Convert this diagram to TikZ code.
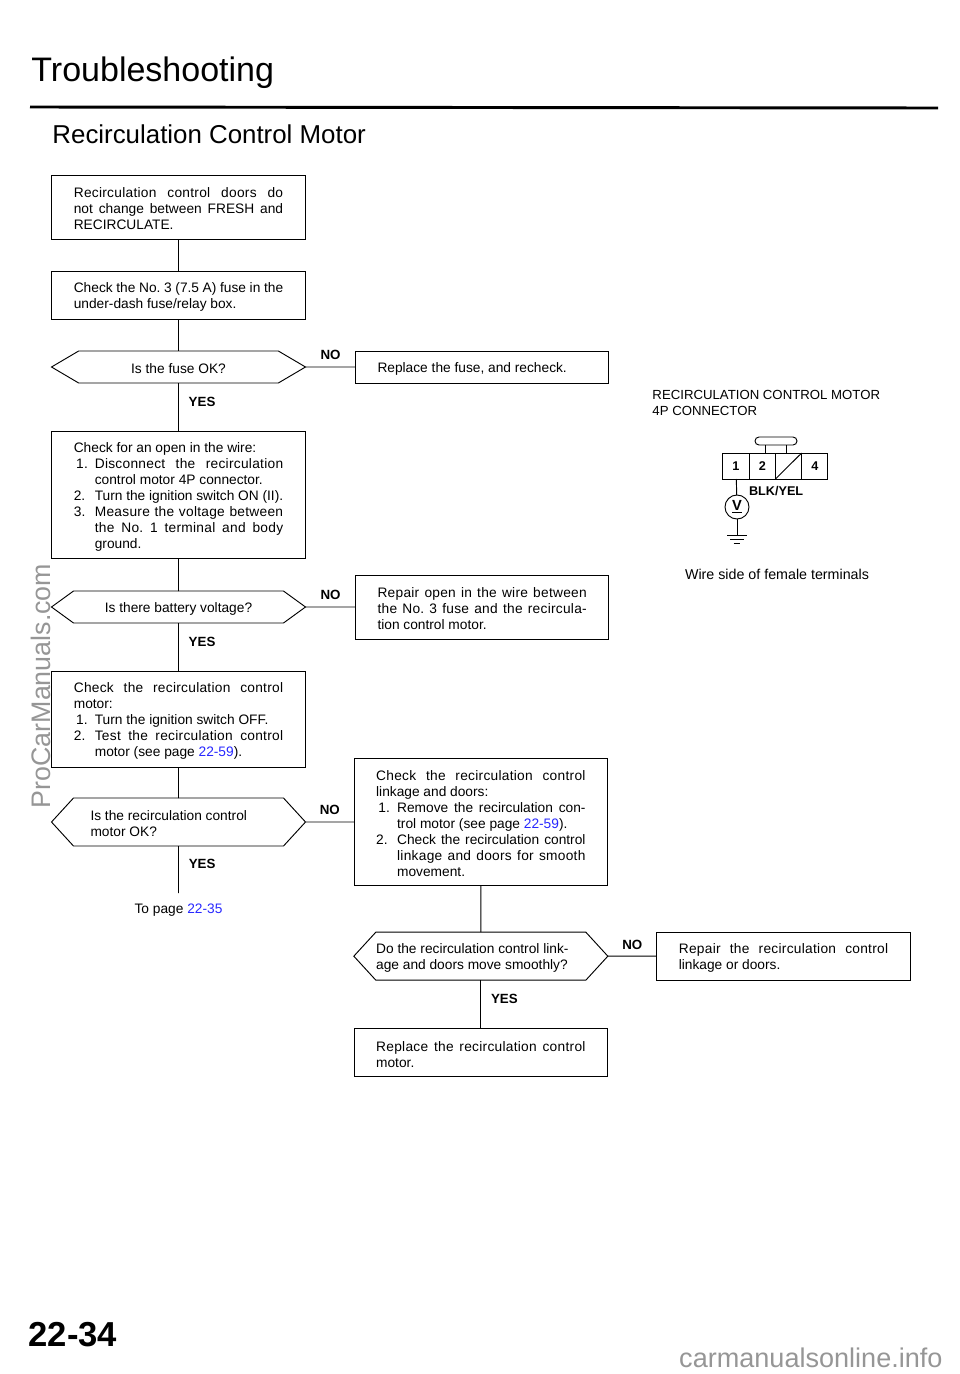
\documentclass[tikz,border=0pt]{standalone}
\usepackage{fontspec}
\setmainfont{Liberation Sans}
\usetikzlibrary{positioning}
\usetikzlibrary{shapes,shapes.symbols}
\definecolor{linkblue}{RGB}{40,40,255}
\definecolor{markgray}{RGB}{150,150,150}
\newlength{\boxw}
\setlength{\boxw}{157pt}
\newcommand{\jl}[1]{\makebox[\boxw][s]{#1}}
\newcommand{\js}[1]{\makebox[\boxw][s]{\addfontfeature{LetterSpace=2}#1}}
\newcommand{\il}[1]{\hspace*{15.75pt}#1}
\newcommand{\ijl}[1]{\hspace*{15.75pt}\makebox[\dimexpr\boxw-15.75pt][s]{\addfontfeature{LetterSpace=2}#1}}
\newcommand{\itm}[1]{\makebox[15.75pt][l]{#1}}
\newcommand{\lnk}[1]{\textcolor{linkblue}{#1}}
\tikzset{body/.style={font=\fontsize{10.3}{12}\selectfont\frenchspacing}}
\tikzset{plainsp/.style={execute at begin node={\spaceskip=0pt\xspaceskip=0pt\relax}}}
\tikzset{lowered/.style={execute at begin node={\spaceskip=0pt\xspaceskip=0pt\rule{0pt}{10.5pt}}}}
\tikzset{box/.style={draw,fill=white,body,lowered,align=left,text width=\boxw,inner xsep=16.5pt,inner ysep=0pt,outer sep=0pt,minimum height=#1}}
\tikzset{hex/.style n args={2}{draw,fill=white,body,lowered,align=left,signal,signal to=east and west,signal pointer angle=#1,minimum width=190.5pt,minimum height=#2,inner xsep=0pt,inner ysep=0pt,outer sep=0pt}}
\tikzset{yes/.style={font=\fontsize{10}{12}\selectfont\bfseries,right=4pt,pos=.39}}
\tikzset{no/.style={font=\fontsize{10}{12}\selectfont\bfseries,above=1.5pt}}
\tikzset{cell/.style={draw,minimum width=19.7pt,minimum height=19.5pt,inner sep=0pt,outer sep=0pt,font=\fontsize{9.5}{10}\selectfont\bfseries}}
\begin{document}
\begin{tikzpicture}[x=.75pt,y=-.75pt,line width=.7pt]
   \useasboundingbox (0,0) rectangle (960,1374);

   \node[rotate=90,text=markgray,font=\fontsize{20.1}{24}\selectfont] (watermark) at (41,686) {ProCarManuals.com};
   \node[text=markgray,font=\fontsize{20.3}{24}\selectfont,anchor=east,inner sep=0pt] (footer) at (943,1358) {carmanualsonline.info};
   \node[font=\fontsize{25.5}{30}\selectfont,anchor=west,inner sep=0pt] (title) at (31,73) {Troubleshooting};
   \node[font=\fontsize{19.4}{24}\selectfont,anchor=west,inner sep=0pt] (subtitle) at (52,134) {Recirculation Control Motor};
   \node[font=\fontsize{26}{30}\selectfont\bfseries,anchor=west,inner sep=0pt] (pageno) at (28,1335) {22-34};
   \coordinate (ruleL) at (30,107);
   \coordinate (ruleR) at (938,108);
   \draw[line width=2.2pt] (ruleL) -- (ruleR);

   \node[box=48pt] (B1) at (178.5,207) {\js{Recirculation control doors do}\\\jl{not change between FRESH and}\\RECIRCULATE.};
   \node[box=36pt] (B2) [below=24pt of B1] {\jl{Check the No. 3 (7.5 A) fuse in the}\\under-dash fuse/relay box.};
   \node[hex={61}{24pt}] (H1) [below=24pt of B2] {Is the fuse OK?};
   \node[box=24pt] (R1) [right=37.5pt of H1] {Replace the fuse, and recheck.};
   \node[box=95.25pt] (B3) [below=36pt of H1] {Check for an open in the wire:\\\js{\itm{\,1.}Disconnect the recirculation}\\\il{control motor 4P connector.}\\\itm{2.}Turn the ignition switch ON (II).\\\js{\itm{3.}Measure the voltage between}\\\ijl{the No. 1 terminal and body}\\\il{ground.}};
   \node[hex={72}{24pt}] (H2) [below=24.75pt of B3] {Is there battery voltage?};
   \node[box=48pt] (R2) [right=37.5pt of H2] {\js{Repair open in the wire between}\\\js{the No. 3 fuse and the recircula-}\\tion control motor.};
   \node[box=72pt] (B4) [below=36pt of H2] {\js{Check the recirculation control}\\motor:\\\itm{\,1.}Turn the ignition switch OFF.\\\js{\itm{2.}Test the recirculation control}\\\il{motor (see page \lnk{22-59}).}};
   \node[hex={95}{36pt},text width=132pt] (H3) [below=23.25pt of B4] {Is the recirculation control\\motor OK?};
   \coordinate[below=35.25pt of H3] (Hend);
   \node[body,plainsp] (topage) [below=4.5pt of Hend] {To page \lnk{22-35}};
   \node[box=95.25pt] (B5) [right=36.5pt of H3] {\js{Check the recirculation control}\\linkage and doors:\\\jl{\itm{\,1.}Remove the recirculation con-}\\\il{trol motor (see page \lnk{22-59}).}\\\jl{\itm{2.}Check the recirculation control}\\\ijl{linkage and doors for smooth}\\\il{movement.}};
   \node[hex={95}{36pt},text width=157pt] (H4) [below=35pt of B5] {Do the recirculation control link-\\age and doors move smoothly?};
   \node[box=36pt] (R3) [right=36.75pt of H4] {\js{Repair the recirculation control}\\linkage or doors.};
   \node[box=36pt] (B6) [below=36pt of H4] {\js{Replace the recirculation control}\\motor.};

   \path (B1) edge (B2)
      (B2) edge (H1)
      (H1) edge node [yes]{YES} (B3)
      (H1) edge node [no]{NO} (R1)
      (B3) edge (H2)
      (H2) edge node [yes]{YES} (B4)
      (H2) edge node [no]{NO} (R2)
      (B4) edge (H3)
      (H3) edge node [yes]{YES} (Hend)
      (H3) edge node [no]{NO} (B5)
      (B5) edge (H4)
      (H4) edge node [yes]{YES} (B6)
      (H4) edge node [no]{NO} (R3)
   ;

   \node[font=\fontsize{9.9}{12}\selectfont,plainsp,align=left,anchor=west,inner sep=0pt] (conntitle) at (652,403) {RECIRCULATION CONTROL MOTOR\\4P CONNECTOR};
   \node[cell] (C1) at (736,466) {1};
   \node[cell,right=0pt of C1] (C2) {2};
   \node[cell,right=0pt of C2] (C3) {};
   \node[cell,right=0pt of C3] (C4) {4};
   \draw (C3.south west) -- (C3.north east);
   \node[draw,rounded corners=3pt,minimum width=31.5pt,minimum height=6pt,inner sep=0pt,outer sep=0pt] (tab) at (776,441) {};
   \draw (tab.south -| 765,0) -- (C2.north -| 765,0);
   \draw (tab.south -| 786,0) -- (C3.north -| 786,0);
   \node[cell,draw=none,font=\fontsize{9.5}{11}\selectfont\bfseries,minimum width=0pt,anchor=west] (wirecol) at (749,491) {BLK/YEL};
   \node[draw,circle,minimum size=18pt,inner sep=0pt,outer sep=0pt,font=\fontsize{11}{12}\selectfont\bfseries] (meter) at (737,507) {\underline{V}};
   \coordinate (gnd) at (737,535);
   \draw (C1) -- (meter);
   \draw (meter) -- (gnd);
   \draw ([xshift=-7.5pt]gnd) -- ([xshift=7.5pt]gnd);
   \draw ([xshift=-5pt,yshift=-3pt]gnd) -- ([xshift=5pt,yshift=-3pt]gnd);
   \draw ([xshift=-2.5pt,yshift=-6pt]gnd) -- ([xshift=2.5pt,yshift=-6pt]gnd);
   \node[font=\fontsize{10.7}{12}\selectfont] (connnote) at (777,574) {Wire side of female terminals};
\end{tikzpicture}
\end{document}
